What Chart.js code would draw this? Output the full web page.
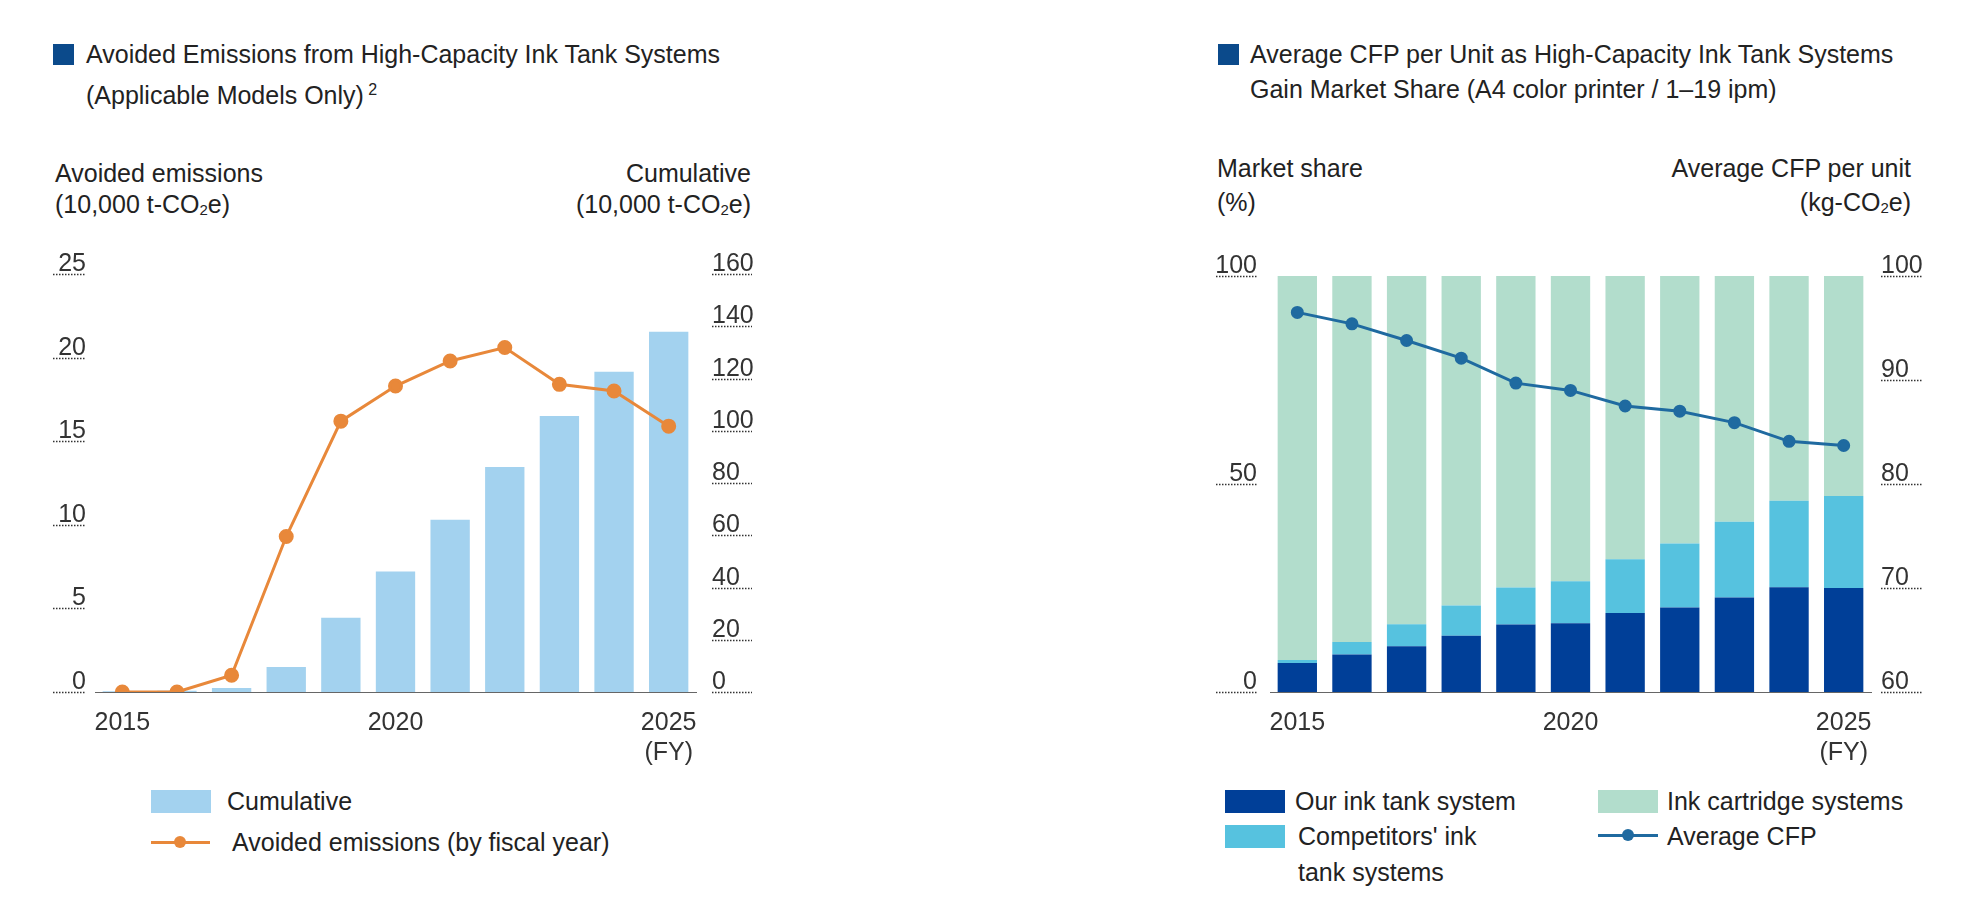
<!doctype html>
<html lang="en">
  <head>
    <meta charset="UTF-8" />
    <title>Ink Tank Systems</title>
    <script src="https://cdn.jsdelivr.net/npm/chart.js"></script>
    <style>
      body { margin: 0; width: 1966px; height: 911px; background: #fff; font-family: "Liberation Sans", Arial, sans-serif; color: #222; position: relative; overflow: hidden; }
      .t { position: absolute; font-size: 25px; line-height: 35px; white-space: nowrap; }
      .sq { position: absolute; width: 21px; height: 21px; background: #0b4a8b; }
      .sw { position: absolute; width: 60px; height: 23px; }
      canvas { position: absolute; }
      sub { font-size: 15px; vertical-align: -2px; }
      sup { font-size: 16px; }
    </style>
  </head>
  <body>
    <!-- left chart texts -->
    <div class="sq" style="left:53px;top:44px"></div>
    <div class="t" style="left:86px;top:37px">Avoided Emissions from High-Capacity Ink Tank Systems</div>
    <div class="t" style="left:86px;top:72px">(Applicable Models Only)<sup> 2</sup></div>
    <div class="t" style="left:55px;top:156px">Avoided emissions</div>
    <div class="t" style="left:55px;top:187px">(10,000 t-CO<sub>2</sub>e)</div>
    <div class="t" style="right:1215px;top:156px">Cumulative</div>
    <div class="t" style="right:1215px;top:187px">(10,000 t-CO<sub>2</sub>e)</div>
    <div class="sw" style="left:151px;top:790px;background:#a3d2ef"></div>
    <div class="t" style="left:227px;top:784px">Cumulative</div>
    <div style="position:absolute;left:151px;top:841px;width:59px;height:3px;background:#e8883a"></div>
    <div style="position:absolute;left:174px;top:836px;width:12px;height:12px;border-radius:6px;background:#e8883a"></div>
    <div class="t" style="left:232px;top:825px">Avoided emissions (by fiscal year)</div>

    <!-- right chart texts -->
    <div class="sq" style="left:1218px;top:44px"></div>
    <div class="t" style="left:1250px;top:37px">Average CFP per Unit as High-Capacity Ink Tank Systems</div>
    <div class="t" style="left:1250px;top:72px">Gain Market Share (A4 color printer / 1–19 ipm)</div>
    <div class="t" style="left:1217px;top:151px">Market share</div>
    <div class="t" style="left:1217px;top:185px">(%)</div>
    <div class="t" style="right:55px;top:151px">Average CFP per unit</div>
    <div class="t" style="right:55px;top:185px">(kg-CO<sub>2</sub>e)</div>
    <div class="sw" style="left:1225px;top:790px;background:#003f98"></div>
    <div class="t" style="left:1295px;top:784px">Our ink tank system</div>
    <div class="sw" style="left:1225px;top:825px;background:#56c2df"></div>
    <div class="t" style="left:1298px;top:819px">Competitors' ink</div>
    <div class="t" style="left:1298px;top:855px">tank systems</div>
    <div class="sw" style="left:1598px;top:790px;background:#b2ddcc"></div>
    <div class="t" style="left:1667px;top:784px">Ink cartridge systems</div>
    <div style="position:absolute;left:1598px;top:834px;width:60px;height:3px;background:#1f6aa0"></div>
    <div style="position:absolute;left:1622px;top:829px;width:12px;height:12px;border-radius:6px;background:#1f6aa0"></div>
    <div class="t" style="left:1667px;top:819px">Average CFP</div>

    <canvas id="leftChart" style="left:50px;top:240px;width:730px;height:530px"></canvas>
    <canvas id="rightChart" style="left:1200px;top:240px;width:766px;height:530px"></canvas>

    <script>
      var years = ["2015", "2016", "2017", "2018", "2019", "2020", "2021", "2022", "2023", "2024", "2025"];
      var shownYears = ["2015", "2020", "2025"];

      // left chart
      var cumulative = [0.3, 0.5, 1.5, 9.6, 28.4, 46.1, 65.9, 86.1, 105.6, 122.6, 137.9];
      var avoided = [0, 0, 1.0, 9.3, 16.2, 18.3, 19.8, 20.6, 18.4, 18.0, 15.9];
      var avoidedTicks = [0, 5, 10, 15, 20, 25];
      var cumulativeTicks = [0, 20, 40, 60, 80, 100, 120, 140, 160];

      // right chart
      var ourShare = [7, 9, 11, 13.5, 16.2, 16.5, 19, 20.3, 22.7, 25.2, 25];
      var competitorShare = [0.7, 3, 5.3, 7.3, 8.9, 10.1, 12.9, 15.4, 18.2, 20.8, 22.1];
      var cartridgeShare = [92.3, 88, 83.7, 79.2, 74.9, 73.4, 68.1, 64.3, 59.1, 54, 52.9];
      var averageCfp = [96.5, 95.4, 93.8, 92.1, 89.7, 89.0, 87.5, 87.0, 85.9, 84.1, 83.7];
      var shareTicks = [0, 50, 100];
      var cfpTicks = [60, 70, 80, 90, 100];

      var tickFont = "25px 'Liberation Sans', Arial, sans-serif";

      // draws tick labels sitting on a short dotted line
      var dottedTicks = {
        id: "dottedTicks",
        afterDraw: function (chart) {
          var ctx = chart.ctx;
          var conf = chart.options.plugins.dottedTicks;
          conf.forEach(function (c) {
            var scale = chart.scales[c.axis];
            c.values.forEach(function (v) {
              var y = Math.round(scale.getPixelForValue(v)) + 0.5;
              ctx.save();
              ctx.strokeStyle = "#333";
              ctx.lineWidth = 1.5;
              ctx.setLineDash([1.5, 1.5]);
              ctx.beginPath();
              ctx.moveTo(c.x1, y);
              ctx.lineTo(c.x2, y);
              ctx.stroke();
              ctx.setLineDash([]);
              ctx.fillStyle = "#333";
              ctx.font = tickFont;
              ctx.textAlign = c.align;
              ctx.textBaseline = "alphabetic";
              ctx.fillText(String(v), c.align === "right" ? c.x2 : c.x1, y - 4);
              ctx.restore();
            });
          });
        },
      };

      function xAxis() {
        return {
          offset: true,
          grid: { display: false },
          border: { display: true, color: "#666", dash: [1, 2], width: 1 },
          ticks: {
            autoSkip: false,
            maxRotation: 0,
            padding: 8,
            color: "#333",
            font: { family: "'Liberation Sans', Arial, sans-serif", size: 25 },
            callback: function (val, i) {
              var y = years[i];
              if (y === "2025") return ["2025", "(FY)"];
              return shownYears.indexOf(y) >= 0 ? y : "";
            },
          },
          afterFit: function (s) { s.height = 78; },
        };
      }

      var ctxL = document.getElementById("leftChart").getContext("2d");
      new Chart(ctxL, {
        type: "bar",
        data: {
          labels: years,
          datasets: [
            {
              type: "line",
              label: "Avoided emissions (by fiscal year)",
              data: avoided,
              yAxisID: "yL",
              borderColor: "#e8883a",
              backgroundColor: "#e8883a",
              borderWidth: 3,
              pointRadius: 6,
              tension: 0,
            },
            {
              label: "Cumulative",
              data: cumulative,
              yAxisID: "yR",
              backgroundColor: "#a3d2ef",
              barPercentage: 0.72,
              categoryPercentage: 1,
            },
          ],
        },
        options: {
          responsive: false,
          animation: false,
          layout: { padding: { top: 34 } },
          plugins: {
            legend: { display: false },
            tooltip: { enabled: false },
            dottedTicks: [
              { axis: "yL", values: avoidedTicks, x1: 3, x2: 36, align: "right" },
              { axis: "yR", values: cumulativeTicks, x1: 662, x2: 702, align: "left" },
            ],
          },
          scales: {
            x: xAxis(),
            yL: {
              position: "left", min: 0, max: 25,
              grid: { display: false }, border: { display: false },
              ticks: { display: false },
              afterFit: function (s) { s.width = 45; },
            },
            yR: {
              position: "right", min: 0, max: 160,
              grid: { display: false }, border: { display: false },
              ticks: { display: false },
              afterFit: function (s) { s.width = 84; },
            },
          },
        },
        plugins: [dottedTicks],
      });

      var ctxR = document.getElementById("rightChart").getContext("2d");
      new Chart(ctxR, {
        type: "bar",
        data: {
          labels: years,
          datasets: [
            {
              type: "line",
              label: "Average CFP",
              data: averageCfp,
              yAxisID: "yR",
              borderColor: "#1f6aa0",
              backgroundColor: "#1f6aa0",
              borderWidth: 3,
              pointRadius: 5,
              tension: 0,
            },
            { label: "Our ink tank system", data: ourShare, yAxisID: "yL", backgroundColor: "#003f98", stack: "s", barPercentage: 0.72, categoryPercentage: 1 },
            { label: "Competitors' ink tank systems", data: competitorShare, yAxisID: "yL", backgroundColor: "#56c2df", stack: "s", barPercentage: 0.72, categoryPercentage: 1 },
            { label: "Ink cartridge systems", data: cartridgeShare, yAxisID: "yL", backgroundColor: "#b2ddcc", stack: "s", barPercentage: 0.72, categoryPercentage: 1 },
          ],
        },
        options: {
          responsive: false,
          animation: false,
          layout: { padding: { top: 36 } },
          plugins: {
            legend: { display: false },
            tooltip: { enabled: false },
            dottedTicks: [
              { axis: "yL", values: shareTicks, x1: 16, x2: 57, align: "right" },
              { axis: "yR", values: cfpTicks, x1: 681, x2: 722, align: "left" },
            ],
          },
          scales: {
            x: Object.assign(xAxis(), { stacked: true }),
            yL: {
              position: "left", min: 0, max: 100, stacked: true,
              grid: { display: false }, border: { display: false },
              ticks: { display: false },
              afterFit: function (s) { s.width = 70; },
            },
            yR: {
              position: "right", min: 60, max: 100,
              grid: { display: false }, border: { display: false },
              ticks: { display: false },
              afterFit: function (s) { s.width = 95; },
            },
          },
        },
        plugins: [dottedTicks],
      });
    </script>
  </body>
</html>
